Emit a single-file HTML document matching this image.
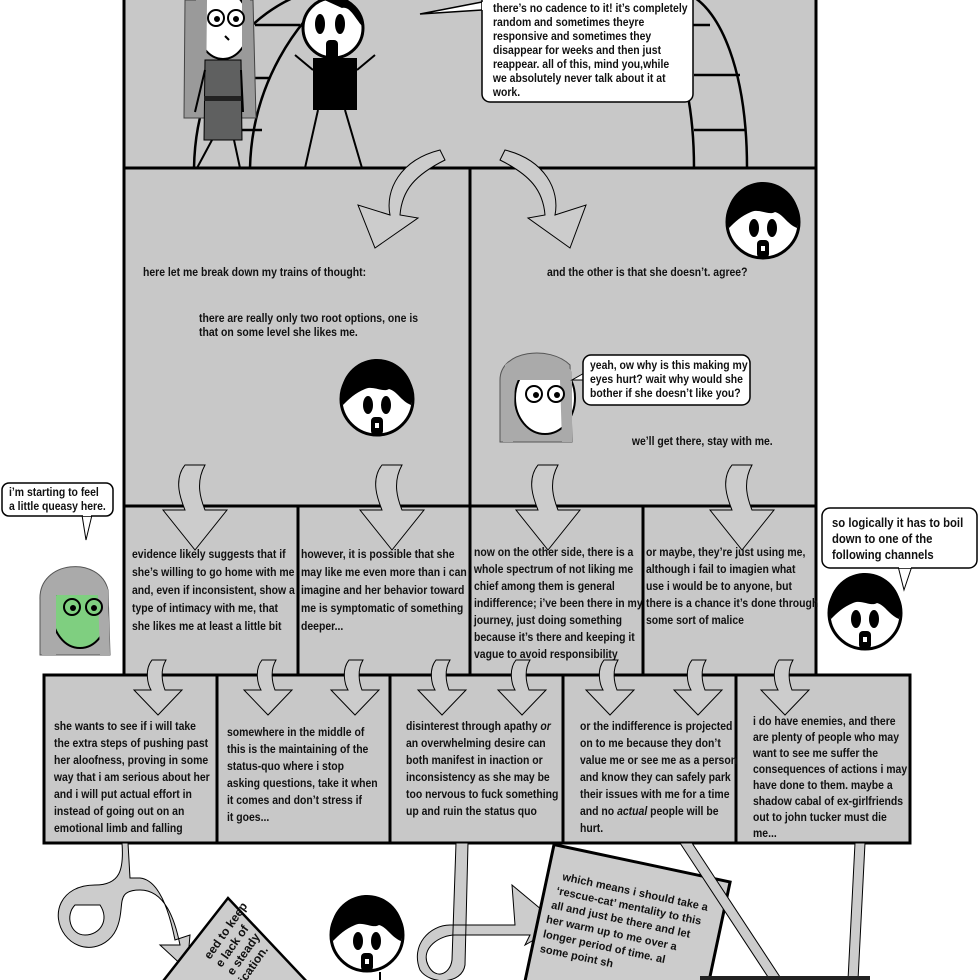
<!DOCTYPE html>
<html><head><meta charset="utf-8"><style>
html,body{margin:0;padding:0;background:#fff}
svg{display:block}
text{font-family:"Liberation Sans",sans-serif;font-weight:bold;font-size:12px;fill:#111;transform-box:fill-box;transform-origin:0 50%;transform:scaleX(0.87)}
g.rot text{transform:none}
</style></head><body>
<svg width="980" height="980" viewBox="0 0 980 980" xmlns="http://www.w3.org/2000/svg">
<defs>
<g id="head">
<circle cx="0" cy="0" r="36" fill="#fff" stroke="#000" stroke-width="3"/>
<path d="M-36,-2 A36,36 0 0 1 36,-6 L34,6 C24,2 20,-8 12,-10 C6,-6 -4,-14 -12,-10 C-22,-6 -28,0 -34,6 Z" fill="#000"/>
<ellipse cx="-9" cy="6" rx="5" ry="9" fill="#000"/>
<ellipse cx="9" cy="6" rx="5" ry="9" fill="#000"/>
<rect x="-6" y="18" width="12" height="18" rx="4" fill="#000"/>
<rect x="-2" y="24" width="4" height="5" fill="#fff"/>
</g>
<g id="arr">
<path d="M-10,0 C-22,15 -14,35 -10,45 L-32,45 L0,85 L32,45 L10,45 C6,35 0,18 10,0 Z" fill="#ccc" stroke="#000" stroke-width="1"/>
</g>
<g id="arrs">
<path d="M-6,0 C-14,10 -10,25 -7,30 L-24,30 L0,55 L24,30 L7,30 C4,22 2,10 8,0 Z" fill="#ccc" stroke="#000" stroke-width="1"/>
</g>
</defs>

<g fill="#c8c8c8" stroke="#000" stroke-width="3">
<rect x="124" y="-3" width="692" height="171"/>
<rect x="124" y="168" width="346" height="338"/>
<rect x="470" y="168" width="346" height="338"/>
<rect x="124" y="506" width="174" height="169"/>
<rect x="298" y="506" width="172" height="169"/>
<rect x="470" y="506" width="173" height="169"/>
<rect x="643" y="506" width="173" height="169"/>
<rect x="44" y="675" width="173" height="168"/>
<rect x="217" y="675" width="173" height="168"/>
<rect x="390" y="675" width="173" height="168"/>
<rect x="563" y="675" width="173" height="168"/>
<rect x="736" y="675" width="174" height="168"/>
</g>

<g fill="none" stroke="#000" stroke-width="2.5">
<path d="M194,168 C196,60 260,10 300,-5"/>
<path d="M250,168 C252,80 300,20 330,-5"/>
<path d="M694,168 C694,80 670,20 640,-5"/>
<path d="M747,168 C747,70 720,10 690,-5"/>
<path d="M255,25 H300 M245,78 H270 M235,130 H262 M694,75 H740 M694,130 H745 M690,25 H710"/>
</g>
<g>
<path d="M185,0 L184,118 L256,118 L253,0 Z" fill="#9a9a9a" stroke="#444" stroke-width="1"/>
<ellipse cx="223" cy="25" rx="26" ry="34" fill="#fff" stroke="#000" stroke-width="2"/>
<path d="M196,0 L196,100 L206,100 L207,0Z M242,0 L242,100 L250,100 L250,0Z" fill="#9a9a9a"/>
<circle cx="216" cy="18" r="8" fill="#fff" stroke="#000" stroke-width="2"/>
<circle cx="236" cy="18" r="8" fill="#fff" stroke="#000" stroke-width="2"/>
<circle cx="217" cy="19" r="3" fill="#000"/><circle cx="236" cy="19" r="3" fill="#000"/>
<path d="M225,36 L229,40" stroke="#000" stroke-width="2"/>
<path d="M205,60 L241,60 L242,140 L204,140 Z" fill="#5f6060" stroke="#000"/>
<rect x="204" y="96" width="38" height="5" fill="#222"/>
<path d="M212,140 L197,168 M234,140 L240,168 M205,70 L195,112 M241,70 L243,112" stroke="#000" stroke-width="2"/>
</g>
<g>
<circle cx="333" cy="28" r="30" fill="#fff" stroke="#000" stroke-width="3"/>
<path d="M320,-2 A30,30 0 0 1 362,26 C355,18 350,6 342,8 Z" fill="#000"/>
<ellipse cx="320" cy="24" rx="5" ry="10" fill="#000"/><ellipse cx="340" cy="24" rx="5" ry="10" fill="#000"/>
<rect x="326" y="40" width="12" height="20" rx="4" fill="#000"/>
<rect x="313" y="58" width="44" height="52" fill="#000"/>
<path d="M318,110 L305,168 M345,110 L362,168 M313,70 L295,55 M357,70 L375,55" stroke="#000" stroke-width="2" fill="none"/>
</g>
<path d="M482,2 L420,14 L482,10" fill="#fff" stroke="#000" stroke-width="1.5"/>
<rect x="482" y="-10" width="211" height="112" rx="8" fill="#fff" stroke="#000" stroke-width="1.5"/>
<path d="M483,2 L483,10" stroke="#fff" stroke-width="2"/>
<g>
<text x="493" y="12">there’s no cadence to it! it’s completely</text>
<text x="493" y="26">random and sometimes theyre</text>
<text x="493" y="40">responsive and sometimes they</text>
<text x="493" y="54">disappear for weeks and then just</text>
<text x="493" y="68">reappear. all of this, mind you,while</text>
<text x="493" y="82">we absolutely never talk about it at</text>
<text x="493" y="96">work.</text>
</g>

<path d="M440,150 C400,160 385,190 390,215 L358,205 L375,248 L418,218 L400,215 C402,190 415,175 445,160 Z" fill="#ccc" stroke="#000"/>
<path d="M505,150 C545,160 560,190 555,215 L586,205 L570,248 L528,218 L545,215 C543,190 530,175 500,160 Z" fill="#ccc" stroke="#000"/>

<text x="143" y="276">here let me break down my trains of thought:</text>
<text x="199" y="322">there are really only two root options, one is</text>
<text x="199" y="336">that on some level she likes me.</text>
<use href="#head" x="377" y="399"/>
<text x="547" y="276">and the other is that she doesn’t. agree?</text>
<use href="#head" x="763" y="222"/>
<g>
<path d="M500,380 C500,350 550,345 570,365 L572,442 L500,442 Z" fill="#aaa" stroke="#555"/>
<ellipse cx="545" cy="398" rx="30" ry="36" fill="#fff" stroke="#000" stroke-width="2"/>
<path d="M505,365 C520,352 560,352 572,372 L572,442 L562,442 L560,380 L515,380 L513,442 L503,442 Z" fill="#aaa"/>
<circle cx="534" cy="394" r="8" fill="#fff" stroke="#000" stroke-width="2"/>
<circle cx="556" cy="394" r="8" fill="#fff" stroke="#000" stroke-width="2"/>
<circle cx="536" cy="395" r="3" fill="#000"/><circle cx="557" cy="395" r="3" fill="#000"/>
</g>
<path d="M586,372 L572,380 L590,380" fill="#fff" stroke="#000"/>
<rect x="583" y="355" width="167" height="50" rx="8" fill="#fff" stroke="#000" stroke-width="1.5"/>
<text x="590" y="369">yeah, ow why is this making my</text>
<text x="590" y="383">eyes hurt? wait why would she</text>
<text x="590" y="397">bother if she doesn’t like you?</text>
<text x="632" y="445">we’ll get there, stay with me.</text>

<use href="#arr" x="195" y="465"/>
<use href="#arr" x="392" y="465"/>
<use href="#arr" x="548" y="465"/>
<use href="#arr" x="742" y="465"/>

<g>
<text x="132" y="558">evidence likely suggests that if</text>
<text x="132" y="576">she’s willing to go home with me</text>
<text x="132" y="594">and, even if inconsistent, show a</text>
<text x="132" y="612">type of intimacy with me, that</text>
<text x="132" y="630">she likes me at least a little bit</text>
<text x="301" y="558">however, it is possible that she</text>
<text x="301" y="576">may like me even more than i can</text>
<text x="301" y="594">imagine and her behavior toward</text>
<text x="301" y="612">me is symptomatic of something</text>
<text x="301" y="630">deeper...</text>
<text x="474" y="556">now on the other side, there is a</text>
<text x="474" y="573">whole spectrum of not liking me</text>
<text x="474" y="590">chief among them is general</text>
<text x="474" y="607">indifference; i’ve been there in my</text>
<text x="474" y="624">journey, just doing something</text>
<text x="474" y="641">because it’s there and keeping it</text>
<text x="474" y="658">vague to avoid responsibility</text>
<text x="646" y="556">or maybe, they’re just using me,</text>
<text x="646" y="573">although i fail to imagien what</text>
<text x="646" y="590">use i would be to anyone, but</text>
<text x="646" y="607">there is a chance it’s done through</text>
<text x="646" y="624">some sort of malice</text>
</g>

<use href="#arrs" x="158" y="660"/>
<use href="#arrs" x="268" y="660"/>
<use href="#arrs" x="355" y="660"/>
<use href="#arrs" x="442" y="660"/>
<use href="#arrs" x="522" y="660"/>
<use href="#arrs" x="610" y="660"/>
<use href="#arrs" x="698" y="660"/>
<use href="#arrs" x="785" y="660"/>

<g>
<text x="54" y="730">she wants to see if i will take</text>
<text x="54" y="747">the extra steps of pushing past</text>
<text x="54" y="764">her aloofness, proving in some</text>
<text x="54" y="781">way that i am serious about her</text>
<text x="54" y="798">and i will put actual effort in</text>
<text x="54" y="815">instead of going out on an</text>
<text x="54" y="832">emotional limb and falling</text>
<text x="227" y="736">somewhere in the middle of</text>
<text x="227" y="753">this is the maintaining of the</text>
<text x="227" y="770">status-quo where i stop</text>
<text x="227" y="787">asking questions, take it when</text>
<text x="227" y="804">it comes and don’t stress if</text>
<text x="227" y="821">it goes...</text>
<text x="406" y="730">disinterest through apathy <tspan font-style="italic">or</tspan></text>
<text x="406" y="747">an overwhelming desire can</text>
<text x="406" y="764">both manifest in inaction or</text>
<text x="406" y="781">inconsistency as she may be</text>
<text x="406" y="798">too nervous to fuck something</text>
<text x="406" y="815">up and ruin the status quo</text>
<text x="580" y="730">or the indifference is projected</text>
<text x="580" y="747">on to me because they don’t</text>
<text x="580" y="764">value me or see me as a person</text>
<text x="580" y="781">and know they can safely park</text>
<text x="580" y="798">their issues with me for a time</text>
<text x="580" y="815">and no <tspan font-style="italic">actual</tspan> people will be</text>
<text x="580" y="832">hurt.</text>
<text x="753" y="725">i do have enemies, and there</text>
<text x="753" y="741">are plenty of people who may</text>
<text x="753" y="757">want to see me suffer the</text>
<text x="753" y="773">consequences of actions i may</text>
<text x="753" y="789">have done to them. maybe a</text>
<text x="753" y="805">shadow cabal of ex-girlfriends</text>
<text x="753" y="821">out to john tucker must die</text>
<text x="753" y="837">me...</text>
</g>

<path d="M82,515 L86,540 L92,515" fill="#fff" stroke="#000"/>
<rect x="2" y="483" width="111" height="33" rx="7" fill="#fff" stroke="#000" stroke-width="1.5"/>
<path d="M83,515 L91,515" stroke="#fff" stroke-width="2"/>
<text x="9" y="496">i’m starting to feel</text>
<text x="9" y="510">a little queasy here.</text>
<g>
<path d="M40,600 C38,560 100,555 108,590 L110,655 L40,655 Z" fill="#aaa" stroke="#555"/>
<ellipse cx="80" cy="612" rx="28" ry="36" fill="#7fcf80" stroke="#000" stroke-width="2"/>
<path d="M50,585 C60,565 100,565 108,590 L110,655 L100,655 L98,595 L56,595 L56,655 L42,655 Z" fill="#aaa"/>
<circle cx="72" cy="607" r="8" fill="#7fcf80" stroke="#000" stroke-width="2"/>
<circle cx="94" cy="607" r="8" fill="#7fcf80" stroke="#000" stroke-width="2"/>
<circle cx="73" cy="608" r="3" fill="#000"/><circle cx="94" cy="608" r="3" fill="#000"/>
</g>
<path d="M898,566 L904,590 L912,566" fill="#fff" stroke="#000"/>
<rect x="822" y="508" width="155" height="60" rx="8" fill="#fff" stroke="#000" stroke-width="1.5"/>
<path d="M899,567 L911,567" stroke="#fff" stroke-width="2"/>
<text x="832" y="527" style="font-size:13px">so logically it has to boil</text>
<text x="832" y="543" style="font-size:13px">down to one of the</text>
<text x="832" y="559" style="font-size:13px">following channels</text>
<use href="#head" x="865" y="613"/>

<path d="M122,843 C124,870 120,885 95,885 C60,885 50,915 65,935 C80,955 110,950 118,925 C125,905 115,890 140,890 C165,890 175,920 180,945 L160,945 L187,970 L190,935 L175,940 C170,915 160,880 140,878 L130,878 L128,843 Z" fill="#ccc" stroke="#000"/>
<path d="M75,905 C65,915 70,935 85,935 C100,935 110,920 100,905 Z" fill="#fff" stroke="#000"/>
<polygon points="160,985 228,898 310,985" fill="#ccc" stroke="#000" stroke-width="2.5"/>
<g class="rot" transform="translate(210,960) rotate(-55)">
<text x="0" y="0">eed to keep</text>
<text x="0" y="14">e lack of</text>
<text x="0" y="28">e steady</text>
<text x="0" y="42">ication.</text>
</g>
<use href="#head" x="367" y="935"/>
<line x1="380" y1="972" x2="380" y2="980" stroke="#000" stroke-width="2"/>

<path d="M456,843 L452,960 C450,975 435,980 428,965 C420,948 440,935 455,935 L530,935 L525,945 L560,925 L512,885 L515,925 L450,925 C430,925 410,945 420,970 C430,985 462,985 465,965 L468,843 Z" fill="#ccc" stroke="#000"/>
<g class="rot" transform="rotate(12 630 920)">
<rect x="540" y="862" width="180" height="140" fill="#ccc" stroke="#000" stroke-width="3"/>
<text x="555" y="895" style="font-size:11px">which means i should take a</text>
<text x="552" y="910" style="font-size:11px">‘rescue-cat’ mentality to this</text>
<text x="550" y="925" style="font-size:11px">all and just be there and let</text>
<text x="548" y="940" style="font-size:11px">her warm up to me over a</text>
<text x="548" y="955" style="font-size:11px">longer period of time. al</text>
<text x="548" y="970" style="font-size:11px">some point sh</text>
</g>
<path d="M680,843 L770,980 L782,980 L692,843 Z" fill="#ccc" stroke="#000"/>
<path d="M855,843 L848,980 L858,980 L865,843 Z" fill="#ccc" stroke="#000"/>
<rect x="700" y="976" width="170" height="6" fill="#222"/>
</svg>
</body></html>
